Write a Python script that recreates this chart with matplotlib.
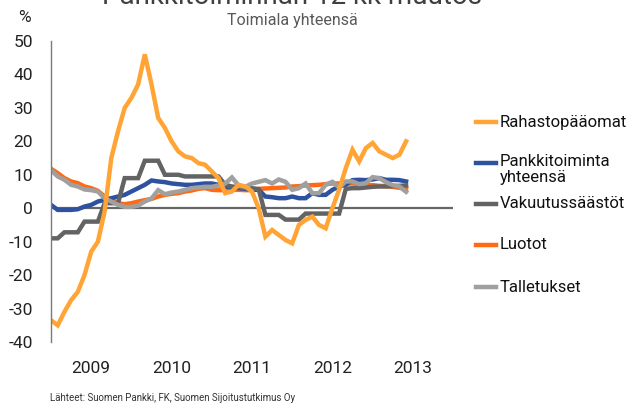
import numpy as np
import matplotlib
matplotlib.use("Agg")
import matplotlib.pyplot as plt
from matplotlib.lines import Line2D

plt.rcParams['font.family'] = ['Liberation Sans Narrow', 'DejaVu Sans Condensed', 'Roboto', 'DejaVu Sans']

# monthly observations, Jan 2009 - Jun 2013
start_year = 2009
rahasto = [-33.5, -35, -31, -27.5, -25, -20, -13, -10, -1, 15, 23, 30, 33, 37, 46,
           37, 27, 24, 20, 17, 15.5, 15, 13.5, 13, 11, 9, 4.5, 5, 7, 6.5, 5, 0,
           -8.5, -6.5, -8, -9.5, -10.5, -5, -3.5, -2.5, -5, -6, 0, 5.5, 12, 17.5,
           14, 18, 19.5, 17, 16, 15, 16, 20]
pankki = [1, -0.5, -0.5, -0.5, -0.3, 0.5, 1, 2, 2.5, 3, 3.5, 4, 5, 6, 7, 8.3, 8,
          7.8, 7.4, 7.2, 7, 7, 7.2, 7.4, 7.4, 7, 6.5, 6.2, 6, 5.8, 5.5, 5.5, 3.5,
          3.3, 3, 3, 3.5, 3, 3, 4.5, 4, 4, 5.5, 6.5, 7, 8.4, 8.5, 8.4, 8.6, 9,
          8.5, 8.5, 8.4, 8]
vakuutus = [-9, -9, -7.2, -7.2, -7.2, -4, -4, -4, 1.5, 1.5, 1.5, 9, 9, 9, 14.2,
            14.2, 14.2, 10, 10, 10, 9.5, 9.5, 9.5, 9.5, 9.5, 9.5, 7, 6.5, 6.3, 6,
            6, 5.7, -2, -2, -2, -3.4, -3.4, -3.4, -1.6, -1.6, -1.6, -1.6, -1.6,
            -1.6, 5.8, 6, 6, 6.2, 6.4, 6.5, 6.5, 6.6, 6.7, 6.8]
luotot = [11.8, 10.5, 9, 8, 7.5, 6.5, 6, 5.2, 3.5, 2.5, 1.5, 1.2, 1.5, 2, 2.4,
          2.8, 3.5, 4, 4.3, 4.5, 5, 5.3, 5.8, 6, 5.5, 5.4, 5.4, 5.5, 5.5, 5.4,
          5.4, 5.8, 5.9, 6, 6.1, 6.2, 6.5, 6.6, 6.8, 6.9, 7, 7.2, 7.4, 7.4, 7.4,
          7.4, 7.2, 7, 6.9, 6.7, 6.6, 6.4, 6.1, 5.9]
talletus = [11.4, 9.5, 8.5, 7, 6.5, 5.6, 5.4, 5, 3, 2, 1, 0.4, 0.4, 0.8, 2, 2.9,
            5.4, 4.2, 4.7, 5, 5.5, 6, 6.2, 6.4, 6.4, 6.8, 7.4, 9.2, 6.8, 6.4, 7.4,
            7.9, 8.4, 7.4, 8.6, 7.9, 5.5, 6, 7.4, 4.5, 4.5, 7, 7.9, 6.2, 8, 8,
            7.2, 7.5, 9.3, 9, 7.8, 6.9, 6.5, 4.9]

years = [2009, 2010, 2011, 2012, 2013]
yticks = [50, 40, 30, 20, 10, 0, -10, -20, -30, -40]

x = start_year + np.arange(len(rahasto)) / 12.0

# drawing order: first drawn lies underneath
series = [
    ("Luotot", luotot, "#FF6A13"),
    ("Pankkitoiminta\nyhteensä", pankki, "#2F52A0"),
    ("Vakuutussäästöt", vakuutus, "#636363"),
    ("Talletukset", talletus, "#A0A0A0"),
    ("Rahastopääomat", rahasto, "#FFA435"),
]
legend_order = ["Rahastopääomat", "Pankkitoiminta\nyhteensä", "Vakuutussäästöt",
                "Luotot", "Talletukset"]

fig = plt.figure(figsize=(6.26, 4.03), dpi=100)
ax = fig.add_axes([51 / 626, 1 - 342 / 403, 402 / 626, 301 / 403])

ax.axhline(0, color="#666666", lw=1.6, zorder=1)
for name, vals, col in series:
    ax.plot(x, vals, color=col, lw=3.2, solid_joinstyle="miter", zorder=2)

ax.set_xlim(2009, 2014)
ax.set_ylim(-40, 50)
ax.set_yticks(yticks)
ax.set_yticklabels([str(v) for v in yticks])
ax.set_xticks([y + 0.5 for y in years])
ax.set_xticklabels([str(y) for y in years])
ax.tick_params(axis="y", length=0, pad=13, labelsize=12.5, labelcolor="#222222")
ax.tick_params(axis="x", length=0, pad=14, labelsize=12.5, labelcolor="#222222")
for s in ["top", "right", "bottom"]:
    ax.spines[s].set_visible(False)
ax.spines["left"].set_color("#7a7a7a")
ax.spines["left"].set_linewidth(1.0)

# legend drawn by hand so that the two-line entry overflows like the original
colors = {name: col for name, _, col in series}
rows_y = [122, 163, 204, 245, 287]
for name, ry in zip(legend_order, rows_y):
    yy = 1 - ry / 403
    fig.add_artist(Line2D([476 / 626, 496 / 626], [yy, yy], color=colors[name],
                          lw=3.2, transform=fig.transFigure))
    two = "\n" in name
    fig.text(500 / 626, yy + (9 / 403 if two else 0), name, fontsize=12,
             color="#111111", va="top" if two else "center", linespacing=1.1)

fig.text(292 / 626, 1 - 4 / 403, "Pankkitoiminnan 12 kk muutos", ha="center",
         va="baseline", fontsize=20, color="#404040")
fig.text(292 / 626, 1 - 20 / 403, "Toimiala yhteensä", ha="center", va="center",
         fontsize=11.5, color="#595959")
fig.text(24 / 626, 1 - 18 / 403, "%", ha="center", va="center", fontsize=12.5,
         color="#222222")
fig.text(50 / 626, 1 - 398 / 403, "Lähteet: Suomen Pankki, FK, Suomen Sijoitustutkimus Oy",
         ha="left", va="center", fontsize=7, color="#333333")

fig.savefig("out.png", dpi=100)
